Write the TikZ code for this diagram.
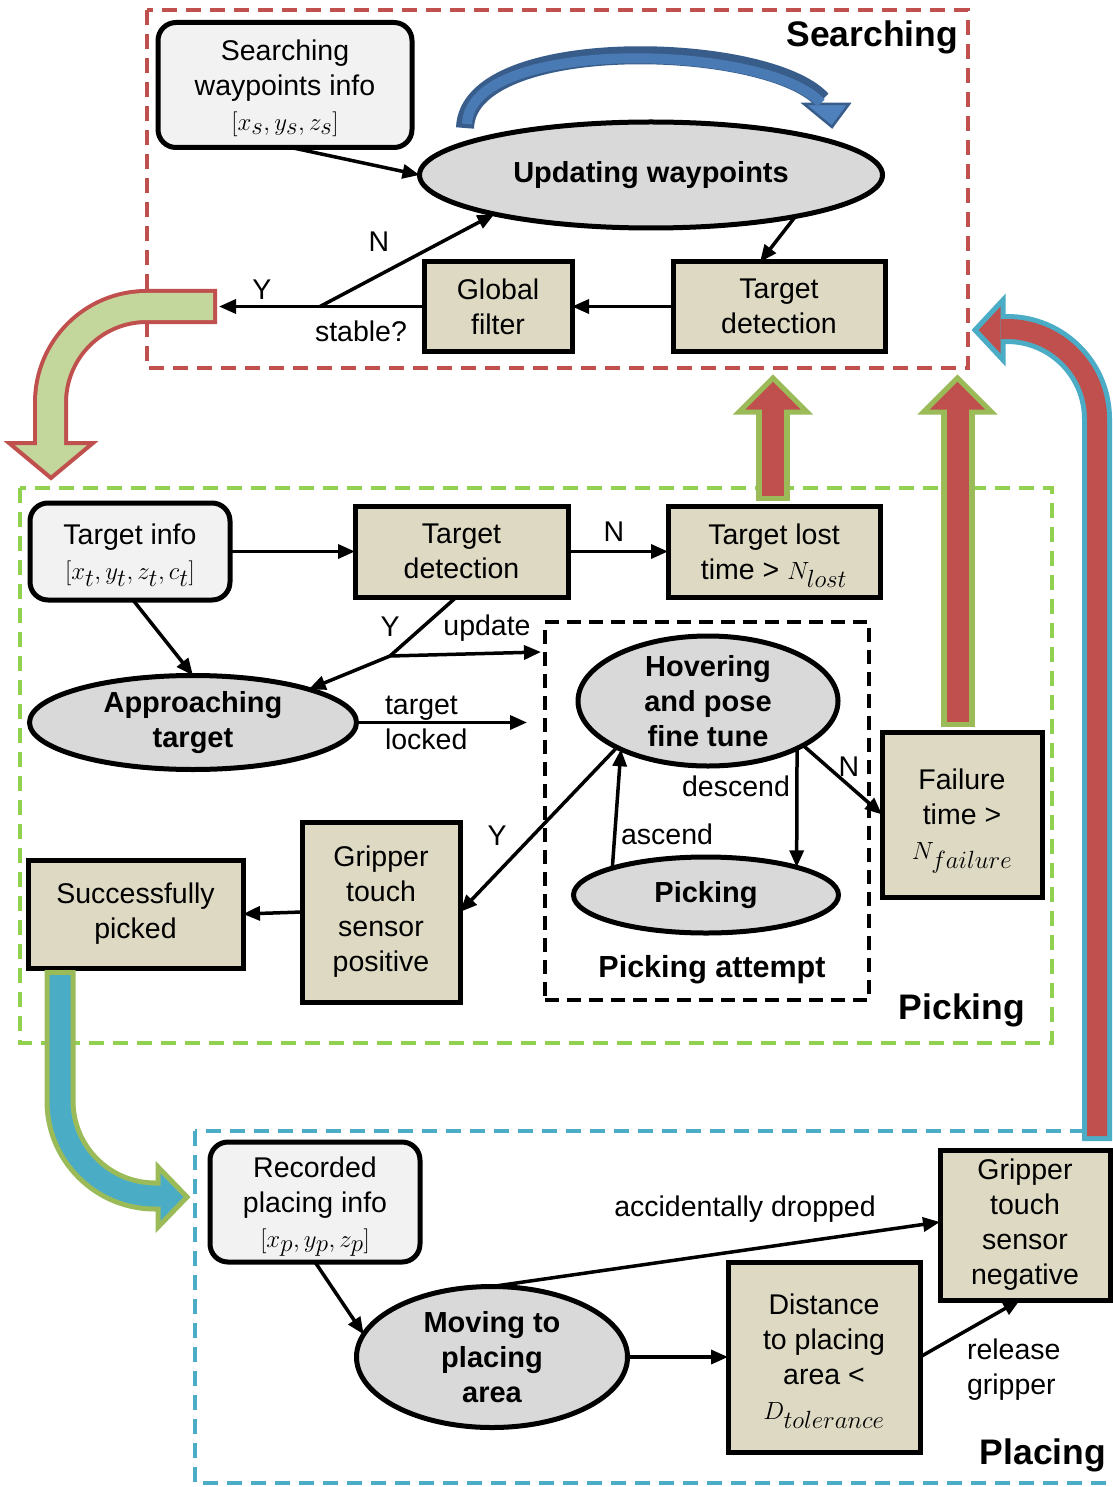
\documentclass[tikz,border=0pt]{standalone}
\usepackage{fontspec}
\setmainfont{Liberation Sans}
\usetikzlibrary{arrows.meta,shapes.geometric}

\definecolor{regRed}{HTML}{C0504D}
\definecolor{regGreen}{HTML}{92D050}
\definecolor{regBlue}{HTML}{4BACC6}
\definecolor{procTan}{HTML}{DDD9C3}
\definecolor{ovalGray}{HTML}{D9D9D9}
\definecolor{infoGray}{HTML}{F2F2F2}
\definecolor{leafGreen}{HTML}{C3D69B}
\definecolor{oliveGreen}{HTML}{9BBB59}
\definecolor{deepBlue}{HTML}{385D8A}
\definecolor{midBlue}{HTML}{4F81BD}

% larger formula type, to sit with the sans text
\newcommand\fml[1]{{\fontsize{33}{35}\selectfont\smash{$#1$}}}

\tikzset{
  every node/.style={font=\fontsize{28.5}{35}\selectfont, inner sep=0pt, outer sep=0pt},
  procbox/.style={draw, line width=5pt, fill=procTan, align=center},
  infobox/.style={draw, line width=5pt, fill=infoGray, rounded corners=18pt, align=center},
  stateoval/.style={ellipse, draw, line width=5pt, fill=ovalGray},
  ovaltext/.style={font=\fontsize{29}{35}\selectfont\bfseries, align=center},
  conn/.style={line width=3.5pt, -{Triangle[length=17pt,width=14pt]}},
  plainline/.style={line width=3.5pt},
  framedash/.style={line width=4pt, dash pattern=on 15pt off 9pt},
  regionlabel/.style={font=\fontsize{35.5}{40}\selectfont\bfseries, anchor=east},
}

\begin{document}
\begin{tikzpicture}[x=1pt,y=-1pt]
\useasboundingbox (0,0) rectangle (1112,1487);
\fill[white] (0,0) rectangle (1112,1487);

% ---------- phase frames ----------
\draw[regRed, framedash] (147,10) rectangle (968,368);
\draw[regGreen, framedash] (20,488) rectangle (1052,1043);
\draw[regBlue, framedash] (195,1131) rectangle (1116,1483);

\node[regionlabel] at (958,37) {Searching};
\node[regionlabel] at (1025,1010) {Picking};
\node[regionlabel] at (1106,1455) {Placing};

% ---------- searching phase ----------
\node[infobox, minimum width=254pt, minimum height=125pt] (swi) at (285,85)
  {Searching\\waypoints info\\\fml{[x_s,y_s,z_s]}};
\node[stateoval, minimum width=463pt, minimum height=106pt,
  label={[ovaltext]center:Updating waypoints}] (uw) at (651,175) {};
\node[procbox, minimum width=212pt, minimum height=89pt] (tds) at (779,306.5)
  {Target\\detection};
\node[procbox, minimum width=148pt, minimum height=89pt] (gf) at (498,306.5)
  {Global\\filter};

\coordinate (foundEnd) at (219,306.5);
\coordinate (stableJ) at (320,306.5);

\draw[conn] ([xshift=6pt]swi.south) -- (uw.west);
\draw[conn] (uw.-16) -- ([xshift=-19pt]tds.north);
\draw[conn] (tds.west) -- (gf.east);
\draw[conn] (gf.west) -- (foundEnd);
\draw[conn] (stableJ) -- (uw.194);

\node at (379,242) {N};
\node at (262,290) {Y};
\node at (361,331) {stable?};

% looping arrow over the waypoint update
\draw[deepBlue, line width=18pt] (465,128) .. controls (468,32) and (768,40) .. (822,100);
\filldraw[fill=midBlue, draw=deepBlue, line width=2.5pt, line join=miter]
  (804,104) -- (849,104) -- (832,127) -- cycle;
\draw[midBlue!80!deepBlue, line width=10pt] (467,124) .. controls (470,36) and (768,44) .. (821,103);

% ---------- picking phase ----------
\node[infobox, minimum width=200pt, minimum height=97pt] (ti) at (130,551.5)
  {Target info\\\fml{[x_t,y_t,z_t,c_t]}};
\node[procbox, minimum width=213pt, minimum height=91pt] (tdp) at (461.5,551.5)
  {Target\\detection};
\node[procbox, minimum width=212pt, minimum height=91pt] (tl) at (774,551.5)
  {Target lost\\time > \fml{N_{lost}}};
\node[stateoval, minimum width=327pt, minimum height=94pt,
  label={[ovaltext]center:Approaching\\target}] (at) at (193,722.5) {};

\node[draw, line width=4pt, dash pattern=on 14pt off 8pt,
  minimum width=324pt, minimum height=378pt] (pa) at (707,811) {};
\node[font=\fontsize{30.5}{35}\selectfont\bfseries] at (712,970) {Picking attempt};

\node[stateoval, minimum width=260pt, minimum height=130pt,
  label={[ovaltext]center:Hovering\\and pose\\fine tune}] (hov) at (708,701) {};
\node[stateoval, minimum width=265pt, minimum height=76pt,
  label={[ovaltext]center:Picking}] (pk) at (706,895) {};

\node[procbox, minimum width=160pt, minimum height=165pt] (fail) at (962,814.5)
  {Failure\\time >\\\fml{N_{failure}}};
\node[procbox, minimum width=158pt, minimum height=180pt] (gp) at (381,912)
  {Gripper\\touch\\sensor\\positive};
\node[procbox, minimum width=215pt, minimum height=108pt] (sp) at (135.5,914)
  {Successfully\\picked};

\coordinate (detJ) at (390,656);
\coordinate (lockEnd) at (527,722.5);

\draw[conn] (ti.east) -- (tdp.west);
\draw[conn] (tdp.east) -- (tl.west);
\draw[conn] ([xshift=3pt]ti.south) -- (at.north);
\draw[plainline] ([xshift=-5pt]tdp.south) -- (detJ);
\draw[conn] (detJ) -- (at.16);
\draw[conn] (detJ) -- ([xshift=-4pt,yshift=-30pt]pa.north west);
\draw[conn] (at.east) -- (lockEnd);
\draw[conn] (hov.207) -- (gp.east);
\draw[conn] (pk.164) -- (hov.209);
\draw[conn] (hov.-28) -- (pk.17);
\draw[conn] (hov.-25) -- (fail.west);
\draw[conn] (gp.west) -- (sp.east);

\node at (614,532) {N};
\node at (390,627) {Y};
\node at (487,628) {update};
\node[anchor=west, align=left] at (385,722.5) {target\\locked};
\node at (497,836) {Y};
\node at (736,786) {descend};
\node at (667,834) {ascend};
\node at (849,767) {N};

% ---------- placing phase ----------
\node[infobox, minimum width=210pt, minimum height=120pt] (rp) at (315,1202)
  {Recorded\\placing info\\\fml{[x_p,y_p,z_p]}};
\node[stateoval, minimum width=271pt, minimum height=141pt,
  label={[ovaltext]center:Moving to\\placing\\area}] (mv) at (492,1357) {};
\node[procbox, minimum width=192pt, minimum height=190pt] (dist) at (824,1357)
  {Distance\\to placing\\area <\\\fml{D_{tolerance}}};
\node[procbox, minimum width=170pt, minimum height=150pt] (gn) at (1025,1225)
  {Gripper\\touch\\sensor\\negative};

\draw[conn] (rp.south) -- (mv.170);
\draw[conn] (mv.east) -- (dist.west);
\draw[conn] (mv.north) -- ([yshift=3pt]gn.west);
\draw[conn] (dist.east) -- ([xshift=-5pt]gn.south);

\node at (745,1209) {accidentally dropped};
\node[anchor=west, align=left] at (967,1370) {release\\gripper};

% ---------- transitions between phases ----------
% searching -> picking
\draw[regRed, line width=35pt, rounded corners=96pt] (217,306.5) -- (50.5,306.5) -- (50.5,445);
\filldraw[fill=leafGreen, draw=regRed, line width=4pt, line join=miter]
  (9,443) -- (93,443) -- (51,478) -- cycle;
\draw[leafGreen, line width=27pt, rounded corners=96pt] (213,306.5) -- (50.5,306.5) -- (50.5,446);

% picking -> searching (target lost, failure)
\draw[oliveGreen, line width=34pt] (773,501) -- (773,410);
\filldraw[fill=regRed, draw=oliveGreen, line width=5pt, line join=miter]
  (739,412) -- (773,378) -- (807,412) -- cycle;
\draw[regRed, line width=22pt] (773,496) -- (773,408);

\draw[oliveGreen, line width=34pt] (957.5,727) -- (957.5,410);
\filldraw[fill=regRed, draw=oliveGreen, line width=5pt, line join=miter]
  (923.5,412) -- (957.5,378) -- (991.5,412) -- cycle;
\draw[regRed, line width=22pt] (957.5,722) -- (957.5,408);

% picking -> placing
\draw[oliveGreen, line width=31pt, rounded corners=95pt] (60,970) -- (60,1196) -- (161,1196);
\filldraw[fill=regBlue, draw=oliveGreen, line width=5pt, line join=miter]
  (158,1167) -- (187,1197) -- (158,1227) -- cycle;
\draw[regBlue, line width=21pt, rounded corners=95pt] (60,975) -- (60,1196) -- (161,1196);

% placing -> searching (dropped)
\draw[regBlue, line width=30pt, rounded corners=90pt] (1097,1141) -- (1097,329) -- (1001,329);
\filldraw[fill=regRed, draw=regBlue, line width=5pt, line join=miter]
  (1003,300) -- (975,330) -- (1003,360) -- cycle;
\draw[regRed, line width=20pt, rounded corners=90pt] (1097,1136) -- (1097,329) -- (1001,329);

\end{tikzpicture}
\end{document}
